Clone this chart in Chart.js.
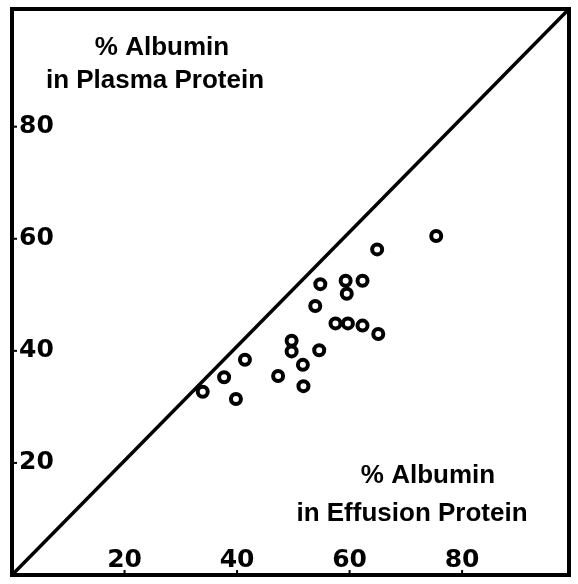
<!DOCTYPE html>
<html>
<head>
<meta charset="utf-8">
<script src="https://cdn.jsdelivr.net/npm/chart.js@4/dist/chart.umd.min.js"></script>
<style>
html, body { margin: 0; padding: 0; background: #fff; }
#wrap { width: 578px; height: 584px; }
</style>
</head>
<body>
<div id="wrap"><canvas id="chartAlbumin"></canvas></div>
<script>
// % albumin in effusion protein (x) against % albumin in plasma protein (y)
var effusionAlbumin = [33.9, 37.7, 39.8, 41.4, 47.3, 49.7, 49.7, 51.7, 51.8, 54.6, 53.9, 54.8,
                       57.5, 59.7, 59.3, 59.5, 62.3, 62.3, 65.1, 64.9, 75.4];
var plasmaAlbumin   = [32.7, 35.3, 31.4, 38.4, 35.5, 41.8, 39.9, 37.5, 33.7, 40.1, 48.0, 51.9,
                       44.9, 44.9, 52.5, 50.2, 52.5, 44.5, 43.0, 58.1, 60.5];

// line of equality, corner to corner
var equalX = [0, 99];
var equalY = [0, 101];

var xTicks = [20, 40, 60, 80];
var yTicks = [20, 40, 60, 80];

var plasmaTitle = ['% Albumin', 'in Plasma Protein'];
var effusionTitle = ['% Albumin', 'in Effusion Protein'];

var points = effusionAlbumin.map(function (v, i) { return { x: v, y: plasmaAlbumin[i] }; });
var equalLine = equalX.map(function (v, i) { return { x: v, y: equalY[i] }; });

var tickFont = { family: 'DejaVu Sans', size: 25, weight: 'bold' };

// axes take no room: labels sit inside the frame
function flatAxis(s) {
    if (s.isHorizontal()) s.height = 0; else s.width = 0;
    s.paddingLeft = 0;
    s.paddingRight = 0;
    s.paddingTop = 0;
    s.paddingBottom = 0;
}

// frame, inward tick marks and the two axis captions
var framePlugin = {
    id: 'frame',
    afterDatasetsDraw: function (chart) {
        var ctx = chart.ctx;
        var a = chart.chartArea;
        ctx.save();
        ctx.strokeStyle = '#000';
        ctx.lineWidth = 2;
        chart.scales.x.ticks.forEach(function (t) {
            var px = chart.scales.x.getPixelForValue(t.value);
            ctx.beginPath(); ctx.moveTo(px, a.bottom); ctx.lineTo(px, a.bottom - 5); ctx.stroke();
        });
        chart.scales.y.ticks.forEach(function (t) {
            var py = chart.scales.y.getPixelForValue(t.value);
            ctx.beginPath(); ctx.moveTo(a.left, py); ctx.lineTo(a.left + 5, py); ctx.stroke();
        });
        ctx.lineWidth = 4;
        ctx.strokeRect(a.left, a.top, a.right - a.left, a.bottom - a.top);

        ctx.fillStyle = '#000';
        ctx.font = 'bold 26px "Liberation Sans"';
        ctx.textAlign = 'center';
        ctx.textBaseline = 'alphabetic';
        ctx.fillText(plasmaTitle[0], 162, 55);
        ctx.fillText(plasmaTitle[1], 155, 88);
        ctx.fillText(effusionTitle[0], 428, 483);
        ctx.fillText(effusionTitle[1], 412, 521);
        ctx.restore();
    }
};

var ctx = document.getElementById('chartAlbumin');
var chart = new Chart(ctx, {
    type: 'scatter',
    data: {
        datasets: [{
            data: points,
            pointRadius: 5,
            pointBorderWidth: 4,
            pointBackgroundColor: '#fff',
            pointBorderColor: '#000',
            order: 1
        }, {
            type: 'line',
            data: equalLine,
            borderColor: '#000',
            borderWidth: 3.5,
            pointRadius: 0,
            fill: false,
            order: 2
        }]
    },
    options: {
        responsive: true,
        maintainAspectRatio: false,
        animation: false,
        devicePixelRatio: 1,
        layout: { padding: { left: 12, right: 2, top: 5, bottom: 6 } },
        plugins: {
            legend: { display: false },
            tooltip: { enabled: false }
        },
        scales: {
            x: {
                type: 'linear',
                min: 0,
                max: 99,
                grid: { display: false, drawTicks: false },
                border: { display: false },
                afterBuildTicks: function (s) { s.ticks = xTicks.map(function (v) { return { value: v }; }); },
                afterFit: flatAxis,
                ticks: { mirror: true, padding: 0, color: '#000', font: tickFont, maxRotation: 0 }
            },
            y: {
                type: 'linear',
                min: 0,
                max: 101,
                grid: { display: false, drawTicks: false },
                border: { display: false },
                afterBuildTicks: function (s) { s.ticks = yTicks.map(function (v) { return { value: v }; }); },
                afterFit: flatAxis,
                ticks: { mirror: true, padding: 7, color: '#000', font: tickFont }
            }
        }
    },
    plugins: [framePlugin]
});
</script>
</body>
</html>
